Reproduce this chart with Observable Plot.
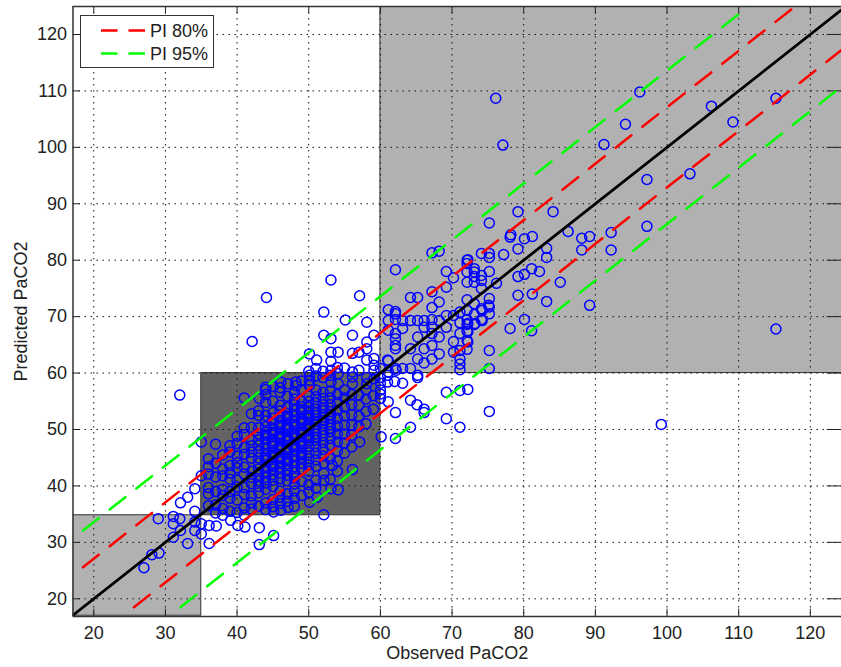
<!DOCTYPE html>
<html>
<head>
<meta charset="utf-8">
<script src="https://cdn.jsdelivr.net/npm/d3@7"></script>
<script src="https://cdn.jsdelivr.net/npm/@observablehq/plot@0.6"></script>
<style>
html,body{margin:0;padding:0;background:#fff;}
#wrap{position:relative;width:841px;height:667px;overflow:hidden;font-family:"Liberation Sans",Arial,sans-serif;}
#legend{position:absolute;left:80px;top:15px;width:132px;height:51px;background:#fff;border:1px solid #333;color:#222;font-size:18px;}
#legend svg{position:absolute;left:0;top:0;}
#legend span{position:absolute;left:69px;line-height:20px;}
</style>
</head>
<body>
<div id="wrap">
  <div id="chart"></div>
  <div id="legend">
    <svg width="132" height="51">
      <line x1="20" x2="64" y1="14.5" y2="14.5" stroke="#ff0000" stroke-width="2.5" stroke-dasharray="16.5,11"></line>
      <line x1="20" x2="64" y1="37.5" y2="37.5" stroke="#00ff00" stroke-width="2.5" stroke-dasharray="16.5,11"></line>
    </svg>
    <span style="top:5px">PI 80%</span>
    <span style="top:28px">PI 95%</span>
  </div>
</div>
<script>
const xTicks = [20,30,40,50,60,70,80,90,100,110,120];
const yTicks = [20,30,40,50,60,70,80,90,100,110,120];
const xDomain = [17.1,124.35];
const yDomain = [16.86,124.96];

const zoneLow = [17,35];
const zoneMid = [35,60];
const zoneHigh = [60,130];
const zoneEdgeY = 34.8;
const zoneFills = ["#b1b1b1","#636363","#b1b1b1"];

const lineStart = 18.5;
const lineEnd = 130;
const pi80 = 7.1;
const pi95 = 13.6;

// sparse points, high range
const highPoints = [
[96.2,109.8],[94.2,104.1],[91.2,100.5],[106.2,107.3],[109.2,104.5],[115.2,108.7],[97.2,94.3],[103.2,95.3],[97.2,86],[92.2,84.9],[86.2,85.1],[88.1,83.9],[89.2,84.2],[76.1,108.7],[77.1,100.4],[115.2,67.8],[99.2,50.9],
[79.2,88.6],[84.1,88.6],[75.2,86.6],[78.1,84.1],[78.2,84.5],[80.1,83.8],[81.2,84.2],[88.1,81.8],[92.2,81.8],[79.2,82],[83.2,82.1],[83.2,80.5],[74.1,81.2],[75.2,81.2],[75.2,80.5],[77.2,81],[72.1,80],[72.1,79.4],
[73.1,78.5],[73.1,77.9],[73.1,77.1],[73.1,76.1],[74.1,77.3],[74.1,76.4],[74.1,75],[75.2,78],[72.1,77.9],[72.1,76.1],[76.2,75.9],[81.1,78.5],[80.1,77.5],[79.2,77.1],[82.2,78],[85.1,76.1],[81.2,74],[79.2,73.8],[83.2,72.7],[89.2,72],
[75.2,73.2],[75.2,71.7],[75.2,70.5],[72.1,73],[73.1,72.3],[74.1,71.4],[74.1,69.5],[73.1,70.4],[73.1,68.6],[72.1,71.1],[72.1,69.5],[72.1,68.6],[72.1,67.4],[72.1,65.8],[72.1,64.2],[80.1,69.5],[78.1,67.9],[81.1,67.5],[75.2,64],[75.2,60.8],
[62.1,78.3],[67.2,81.3],[68.2,81.6],[69.2,78],[70.2,76.9],[72.2,80.1],[67.2,74.4],[69.2,75.2],[64.2,73.4],[65.2,73.4],[67.2,71.6],[68.2,72.6],[61.1,71.2],[62.1,70.9],[62.1,70.5],[61.1,69.3],[61.1,67.6],
[62.1,69.5],[62.1,67],[62.1,66.1],[62.1,64.9],[62.1,64.3],[63.1,69.3],[63.1,67.9],[64.2,69.3],[64.2,64.3],[65.2,69.3],[65.2,66.4],[65.2,62.5],[66.1,69.3],[66.1,68.1],[66.1,64.3],[66.1,61.8],
[67.2,69.5],[67.2,68.1],[67.2,67],[67.2,64.9],[67.2,62.5],[68.2,69.3],[68.2,66.4],[68.2,63.4],[69.2,70.2],[69.2,68.1],[70.2,70.2],[70.2,65.6],[70.2,63.7],
[71.1,70.8],[71.1,68.9],[71.1,67],[71.1,64],[71.1,62.5],[71.1,61.6],[71.1,60.6],[72.2,68.8],[72.2,67.3],[72.2,65.5],[73.2,68.8],[74.2,71.1],[74.2,69.3],[75.1,72],
[64.2,60.8],[63.1,60.8],[62.1,60.8],[61.1,62.2],[61.1,60.2],[65.2,59.6],[63.1,58.2],[65.2,59.2],
[69.2,56.6],[71.1,56.9],[72.2,57.1],[75.2,53.2],[69.2,51.9],[71.1,50.4],[64.2,50.4],[62.1,53],[61.1,54.9],[64.2,55.2],[65.1,54.4],[66.1,53.6],[66.1,53],[60,57],[60,56.3],[60,55.5],[60.1,48.7],[62.1,48.4]
];

// sparse points around the middle zone's upper edge
const upperMidPoints = [
[53.1,76.5],[44.1,73.4],[57.1,73.7],[52.1,70.8],[42.1,65.6],[55.1,69.4],[58.1,69],[52.1,66.7],[53.1,66.1],[56.1,66.7],[59.1,66.7],[58.1,65.5],[58.1,64.3],[50.1,63.4],[51.1,62.3],[53.1,63.7],[53.1,62.1],[54.1,63.7],[56.1,63.5],[57,63.7],[58.1,62.3],[59.1,62.6],[59.1,61.4],[59.1,60.5],[61,62.3],[62.2,60.5],[53.1,60.5],[54.1,59.9],[56.1,60.2],[50.1,59.6],[44,57.5],[46.1,58.4],[47.1,58.1],[48.2,58.4],[48.2,57.8],[50.1,57.8],[50.1,58.7],[53.1,58.4],[54.1,58.1],[56.1,59.3],[56.1,58.1],[58.1,59.2],[58.1,58.1],[59.1,59],[60,58.2],
[51,59.5],[52,60.3],[53,59.6],[55,60.9],[57,60.5],[49,58.6],[54,61],[60,60.8],[60,59.2],[61,58.4],[61,59.6],[62,58.5]
];

// sparse points, low range
const lowPoints = [
[32,56.1],[35,47.8],[35,41.8],[34.1,39.5],[33.1,38],[32.1,37],[34.1,35.5],[29,34.2],[31.1,34.6],[31.1,33.3],[32,34.2],[34.1,33.6],[34.1,32.1],[32.1,32.1],[31.1,30.9],[33.1,29.8],[35,33.3],[35,31.5],
[36.1,33],[37.1,32.9],[36.1,29.8],[29.1,28.1],[28.1,27.8],[27,25.5],[39.1,33.9],[40.1,33],[41.1,32.7],[43.1,32.6],[43.1,29.6],[45.1,31.2],[52.1,34.9],
[41,55.6],[44,57.1],[45,55],[43.1,55.5],[43,53.3],[57.1,47.8],[56.1,42.9],[54.1,39.3],[53.1,39.5],[50.1,37.1],[51.2,38],[47.1,36.2],[46.1,35.7],[45.1,35.4],[53.3,43.6],[52.1,42.2],[52.1,41],[52.1,44]
];

// dense centre, by observed value
const col36 = [36.5,38.6,39.7,42.1,43.4,44.8];
const col37 = [35.2,36.6,39,41.6,44,47.4];
const col38 = [34.8,36,38.3,39.4,41.8,43,45.5];
const col39 = [35.5,37.8,39,41.2,42.3,43.6,46,47.1];
const col40 = [35.3,37.5,39.8,41,43.2,44.1,45.3,47.5,48.8];
const col41 = [34.8,36.1,38.5,39.7,42.1,43.3,45.6,46.8,49.1,50.3];
const col42 = [35.9,37,38.2,40.4,41.5,42.6,44.9,46,47.1,48.2,50.4,52.8];
const col43 = [36.4,38.8,39.9,40.9,41.9,43,44,45,46.1,47.2,48.2,49.2,50.3,52.5];
const col44 = [35.8,37,39.4,40.5,41.5,42.5,43.5,44.5,45.5,46.5,47.5,48.5,49.5,50.5,51.5,52.5,54.8,56.2];
const col45 = [36.3,37.6,39.9,41,42,43,44,45,46,47,48,49,50,51,52,53,57.6];
const col46 = [36.9,38,39.1,41.3,42.3,43.3,44.3,45.3,46.3,47.3,48.3,49.3,50.3,51.3,52.3,53.3,54.3,56.6,57.4];
const col47 = [37.3,38.6,40.9,41.9,42.9,43.9,44.9,45.9,46.9,47.9,48.9,49.9,50.9,51.9,52.9,53.9,55.9];
const col48 = [36.4,37.8,39.1,40.3,41.4,42.4,43.4,44.4,45.4,46.4,47.4,48.4,49.4,50.4,51.4,52.4,53.4,54.4,55.4,56.5];
const col49 = [38.3,40.8,43,44,45,46,47,48,49,50,51,52,53,54,55,57.1];
const col50 = [38.9,40.2,42.6,43.7,44.8,45.9,47,48,49,50,51,52,53,54,55,56,60.3];
const col51 = [39.6,41,43.5,44.6,45.8,47,48.1,49.2,50.3,51.4,52.5,53.6,54.7,55.8,57,60.8];
const col52 = [45.3,46.5,47.7,48.9,50,51.1,52.2,53.3,54.4,55.5,56.6,59.2];
const col53 = [41.2,44.8,47.2,48.4,49.6,50.8,52,53.2,54.4,55.6,56.8];
const col54 = [42.6,44.4,46.2,47.8,49.2,50.6,52,53.4,54.8,56.2];
const col55 = [45.8,47.6,49.2,50.8,52.4,54,55.6,57];
const col56 = [46.9,49,50.8,52.6,54.4,56.2];
const col57 = [50.5,52.4,54.3,56.1];
const col58 = [51,53.2,55.4,57];
const col59 = [53.6,56];
const denseColumns = [[36,col36],[37,col37],[38,col38],[39,col39],[40,col40],[41,col41],[42,col42],[43,col43],[44,col44],[45,col45],[46,col46],[47,col47],[48,col48],[49,col49],[50,col50],[51,col51],[52,col52],[53,col53],[54,col54],[55,col55],[56,col56],[57,col57],[58,col58],[59,col59]];

// further overlapping readings in the solid core
const corePoints = [
[44,45],[44,49],[45,43.5],[45,45.5],[45,47.5],[45,49.5],[46,44.8],[46,46.8],[46,48.8],[46,50.8],[47,44.4],[47,46.4],[47,48.4],[47,50.4],[47,52.4],[48,46.9],[48,48.9],[48,50.9],[49,45.5],[49,47.5],[49,49.5],[49,51.5],[49,53.5],[50,48.5],[50,50.5],[50,52.5],[51,48.6],[51,50.9],[51,53],[52,51.6],[52,53.8],[53,50.2],[53,52.6]
];

const points = [...highPoints, ...upperMidPoints, ...lowPoints, ...denseColumns.flatMap(([x, ys]) => ys.map(y => [x, y])), ...corePoints];

const zones = [
  {x1: zoneLow[0], x2: zoneLow[1], y1: zoneLow[0], y2: zoneEdgeY, fill: zoneFills[0]},
  {x1: zoneMid[0], x2: zoneMid[1], y1: zoneEdgeY, y2: zoneMid[1], fill: zoneFills[1]},
  {x1: zoneHigh[0], x2: zoneHigh[1], y1: zoneHigh[0], y2: zoneHigh[1], fill: zoneFills[2]}
];
const band = d => [[lineStart + Math.max(0, -d), lineStart + Math.max(0, d)], [lineEnd, lineEnd + d]];
const dash = {strokeWidth: 2.5, strokeDasharray: "20,13.9", clip: true};
const gridStyle = {stroke: "#111", strokeWidth: 1, strokeDasharray: "1.5,4.5", clip: true};
const tickX = 1.0, tickY = 1.3;

const chart = Plot.plot({
  width: 841, height: 667,
  marginLeft: 72.5, marginRight: 0, marginTop: 6, marginBottom: 51,
  style: {background: "#fff", fontFamily: "'Liberation Sans', Arial, sans-serif", color: "#222"},
  x: {domain: xDomain, label: null},
  y: {domain: yDomain, label: null},
  marks: [
    Plot.rect(zones, {x1: "x1", x2: "x2", y1: "y1", y2: "y2", fill: "fill", stroke: "#333", strokeWidth: 1, clip: true}),
    Plot.ruleX(xTicks, gridStyle),
    Plot.ruleY(yTicks, gridStyle),
    Plot.ruleX(xTicks, {y1: yDomain[0], y2: yDomain[0] + tickY, stroke: "#222"}),
    Plot.ruleX(xTicks, {y1: yDomain[1], y2: yDomain[1] - tickY, stroke: "#222"}),
    Plot.ruleY(yTicks, {x1: xDomain[0], x2: xDomain[0] + tickX, stroke: "#222"}),
    Plot.ruleY(yTicks, {x1: xDomain[1], x2: xDomain[1] - 2 * tickX, stroke: "#222"}),
    Plot.dot(points, {x: d => d[0], y: d => d[1], r: 5, stroke: "#0000ff", strokeWidth: 1.5, fill: "none", clip: true}),
    Plot.line(band(pi95), {stroke: "#00ff00", ...dash}),
    Plot.line(band(-pi95), {stroke: "#00ff00", ...dash}),
    Plot.line(band(pi80), {stroke: "#ff0000", ...dash}),
    Plot.line(band(-pi80), {stroke: "#ff0000", ...dash}),
    Plot.line([[15, 15], [130, 130]], {stroke: "#000", strokeWidth: 2.8, clip: true}),
    Plot.ruleX([xDomain[0]], {stroke: "#333", strokeWidth: 1.5}),
    Plot.ruleY([yDomain[0], yDomain[1]], {stroke: "#333", strokeWidth: 1.5}),
    Plot.axisX(xTicks, {tickSize: 0, tickPadding: 10, fontSize: 18, label: "Observed PaCO2", labelAnchor: "center", labelArrow: "none", labelOffset: 42}),
    Plot.axisY(yTicks, {tickSize: 0, tickPadding: 6, fontSize: 18, label: "Predicted PaCO2", labelAnchor: "center", labelArrow: "none", labelOffset: 59})
  ]
});
document.getElementById("chart").appendChild(chart);
</script>
</body>
</html>
